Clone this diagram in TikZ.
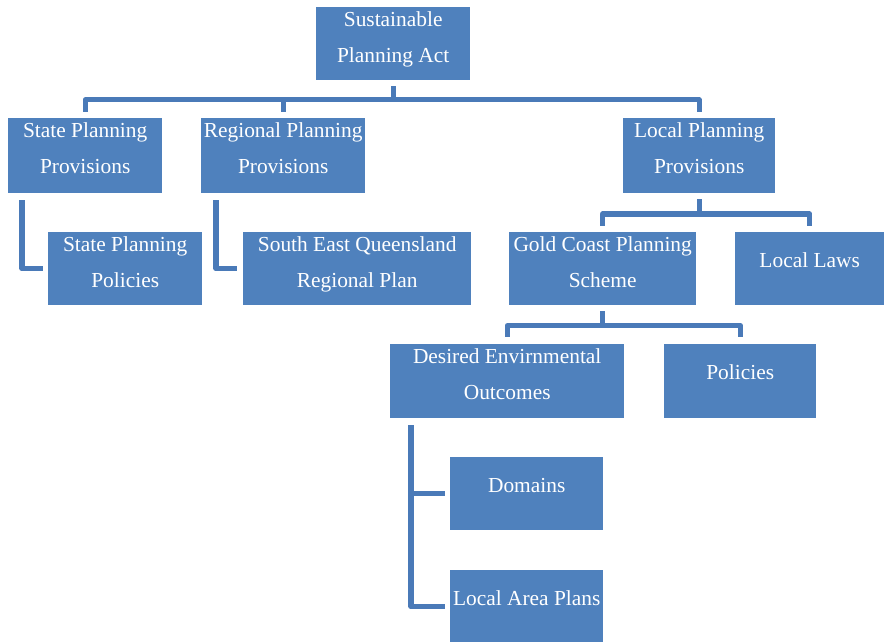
\documentclass[tikz,border=0pt]{standalone}
\usepackage{fontspec}
\setmainfont{Liberation Serif}
\definecolor{boxblue}{HTML}{4F81BD}
\definecolor{lineblue}{HTML}{4A7AB8}
\tikzset{
  box/.style={fill=boxblue, draw=none, inner sep=0pt, anchor=north west},
  twoline/.style={text=white, align=center, inner sep=0pt, anchor=north,
    font=\fontsize{21.4}{36.3}\selectfont},
  oneline/.style={text=white, inner sep=0pt, anchor=base,
    font=\fontsize{21.4}{36.3}\selectfont},
  conn/.style={draw=lineblue, line width=5.2pt, line join=round},
}
\begin{document}
\begin{tikzpicture}[x=1pt,y=1pt]
\useasboundingbox (0,0) rectangle (884,642);
\clip (0,0) rectangle (884,642);

% boxes
\node[box, minimum width=154pt, minimum height=73pt] (spa)  at (316,635) {};
\node[box, minimum width=154pt, minimum height=75pt] (spp)  at (8,524) {};
\node[box, minimum width=164pt, minimum height=75pt] (rpp)  at (201,524) {};
\node[box, minimum width=152pt, minimum height=75pt] (lpp)  at (623,524) {};
\node[box, minimum width=154pt, minimum height=73pt] (spol) at (48,410) {};
\node[box, minimum width=228pt, minimum height=73pt] (seq)  at (243,410) {};
\node[box, minimum width=187pt, minimum height=73pt] (gcps) at (509,410) {};
\node[box, minimum width=149pt, minimum height=73pt] (ll)   at (735,410) {};
\node[box, minimum width=234pt, minimum height=74pt] (deo)  at (390,298) {};
\node[box, minimum width=152pt, minimum height=74pt] (pol)  at (664,298) {};
\node[box, minimum width=153pt, minimum height=73pt] (dom)  at (450,185) {};
\node[box, minimum width=153pt, minimum height=73pt] (lap)  at (450,72) {};

% labels
\node[twoline] (spa-t)  at ([yshift=-4.6pt]spa.north)  {Sustainable\\Planning Act};
\node[twoline] (spp-t)  at ([yshift=-4.6pt]spp.north)  {State Planning\\Provisions};
\node[twoline] (rpp-t)  at ([yshift=-4.6pt]rpp.north)  {Regional Planning\\Provisions};
\node[twoline] (lpp-t)  at ([yshift=-4.6pt]lpp.north)  {Local Planning\\Provisions};
\node[twoline] (spol-t) at ([yshift=-4.6pt]spol.north) {State Planning\\Policies};
\node[twoline] (seq-t)  at ([yshift=-4.6pt]seq.north)  {South East Queensland\\Regional Plan};
\node[twoline] (gcps-t) at ([yshift=-4.6pt]gcps.north) {Gold Coast Planning\\Scheme};
\node[oneline] (ll-t)   at ([yshift=-36pt]ll.north)    {Local Laws};
\node[twoline] (deo-t)  at ([yshift=-4.6pt]deo.north)  {Desired Envirnmental\\Outcomes};
\node[oneline] (pol-t)  at ([yshift=-36pt]pol.north)   {Policies};
\node[oneline] (dom-t)  at ([yshift=-36pt]dom.north)   {Domains};
\node[oneline] (lap-t)  at ([yshift=-36pt]lap.north)   {Local Area Plans};

% tree connectors
\draw[conn, shorten <=6pt, shorten >=6pt] (spa.south) -- ++(0,-19.5) -| (spp.north);
\draw[conn, shorten <=6pt, shorten >=6pt] (spa.south) -- ++(0,-19.5) -| (rpp.north);
\draw[conn, shorten <=6pt, shorten >=6pt] (spa.south) -- ++(0,-19.5) -| (lpp.north);

\draw[conn, shorten <=6pt, shorten >=6pt] (lpp.south) -- ++(0,-20.7) -| (gcps.north);
\draw[conn, shorten <=6pt, shorten >=6pt] (lpp.south) -- ++(0,-20.7) -| (ll.north);

\draw[conn, shorten <=6pt, shorten >=7pt] (gcps.south) -- ++(0,-20.3) -| (deo.north);
\draw[conn, shorten <=6pt, shorten >=7pt] (gcps.south) -- ++(0,-20.3) -| (pol.north);

% side brackets
\draw[conn, shorten <=7pt, shorten >=5pt] ([xshift=14pt]spp.south west) |- (spol.west);
\draw[conn, shorten <=7pt, shorten >=6pt] ([xshift=15pt]rpp.south west) |- (seq.west);
\draw[conn, shorten <=7pt, shorten >=5pt] ([xshift=21pt]deo.south west) |- (dom.west);
\draw[conn, shorten <=7pt, shorten >=5pt] ([xshift=21pt]deo.south west) |- (lap.west);
\end{tikzpicture}
\end{document}
